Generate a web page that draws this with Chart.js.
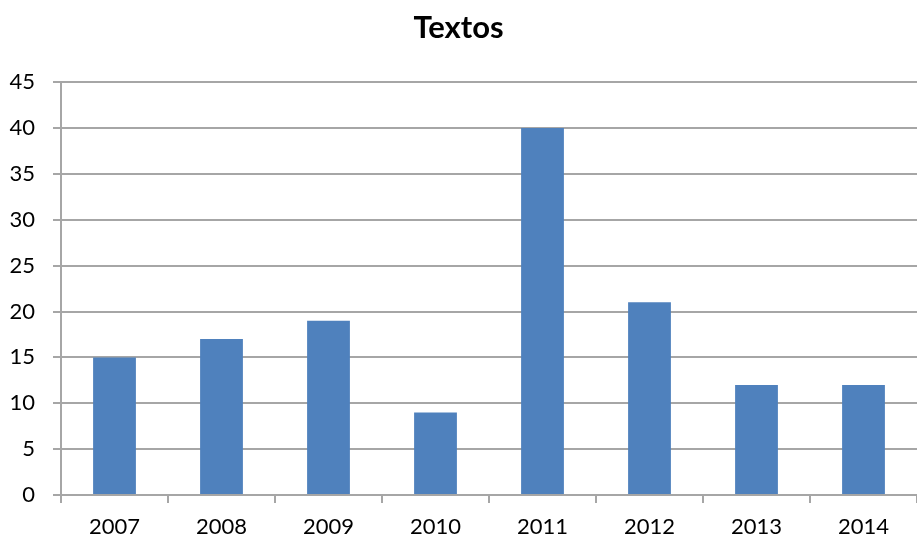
<!DOCTYPE html>
<html>
<head>
<meta charset="utf-8">
<script src="https://cdn.jsdelivr.net/npm/chart.js@4/dist/chart.umd.min.js"></script>
<style>
  html, body { margin: 0; padding: 0; background: #fff; }
  #wrap { width: 917px; height: 540px; position: relative; }
</style>
</head>
<body>
<div id="wrap"><canvas id="barChart"></canvas></div>
<script>
// Datos
const anios = ["2007", "2008", "2009", "2010", "2011", "2012", "2013", "2014"];
const textos = [15, 17, 19, 9, 40, 21, 12, 12];
const ejeMax = 45;
const ejePaso = 5;

const gris = "#a6a6a6";
const fuente = "Lato, 'Open Sans', sans-serif";

const ctx = document.getElementById("barChart");

new Chart(ctx, {
  type: "bar",
  data: {
    labels: anios,
    datasets: [
      {
        label: "Textos",
        data: textos,
        backgroundColor: "#4f81bd",
        borderWidth: 0,
        barPercentage: 0.4,
        categoryPercentage: 1
      }
    ]
  },
  options: {
    responsive: true,
    maintainAspectRatio: false,
    animation: false,
    plugins: {
      legend: { display: false },
      tooltip: { enabled: false },
      title: {
        display: true,
        text: "Textos",
        color: "#000",
        font: { family: fuente, size: 31, weight: "bold" },
        padding: { top: 9, bottom: 36 }
      }
    },
    scales: {
      x: {
        grid: {
          offset: true,
          drawOnChartArea: false,
          tickLength: 8,
          color: gris,
          lineWidth: 2
        },
        border: { color: gris, width: 2 },
        ticks: {
          color: "#000",
          font: { family: fuente, size: 22 },
          padding: 11,
          maxRotation: 0
        },
        afterFit: (s) => { s.height = 45; }
      },
      y: {
        min: 0,
        max: ejeMax,
        grid: {
          color: gris,
          lineWidth: 2,
          tickLength: 8
        },
        border: { color: gris, width: 2 },
        ticks: {
          stepSize: ejePaso,
          color: "#000",
          font: { family: fuente, size: 22 },
          padding: 18
        },
        afterFit: (s) => { s.width = 61; }
      }
    }
  }
});
</script>
</body>
</html>
